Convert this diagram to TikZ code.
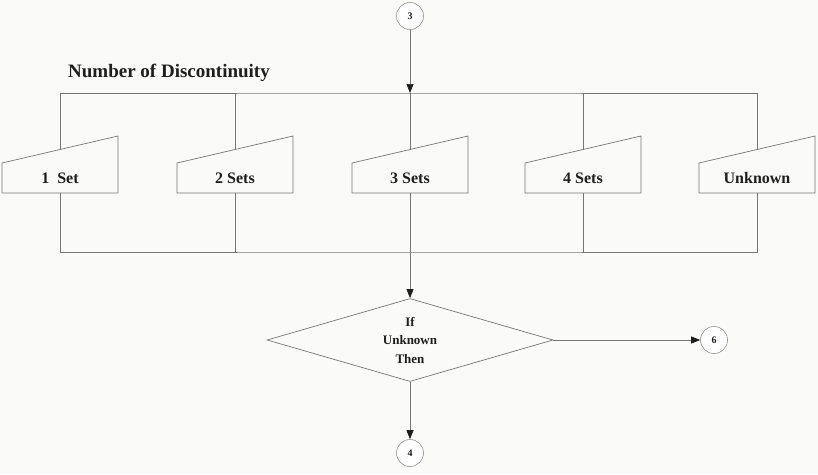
\documentclass[tikz,border=0pt]{standalone}
\usepackage{fontspec}
\setmainfont{Liberation Serif}
\usetikzlibrary{shapes.geometric,arrows.meta,calc}
\definecolor{paper}{HTML}{FAFAF9}
\definecolor{linegray}{HTML}{767676}
\definecolor{ink}{HTML}{1E1E1E}
\begin{document}
\begin{tikzpicture}[x=1pt,y=-1pt,
  wire/.style={draw=linegray, line width=0.7pt},
  flow/.style={wire, -{Triangle[length=9pt,width=7pt,color=ink]}},
  connector/.style={circle, draw=linegray!80, line width=0.6pt, fill=white,
    minimum size=27pt, inner sep=0pt, text=ink,
    font=\bfseries\fontsize{10}{11}\selectfont},
  boxtext/.style={text=ink, inner sep=1pt, font=\bfseries\fontsize{16}{18}\selectfont},
  heading/.style={text=ink, inner sep=0pt, font=\bfseries\fontsize{19}{22}\selectfont},
  decision/.style={diamond, wire, aspect=3.45, minimum width=286pt,
    minimum height=83pt, inner sep=0pt, align=center, text=ink,
    font=\bfseries\fontsize{13}{18.5}\selectfont}]
\useasboundingbox (0,0) rectangle (818,474);
\fill[paper] (0,0) rectangle (818,474);

% heading
\node[heading, anchor=base west] (title) at (68,77) {Number of Discontinuity};

% off-page connectors
\node[connector] (c3) at (410,16) {3};
\node[connector] (c6) at (714,340) {6};
\node[connector] (c4) at (410,453) {4};

% manual-input boxes, one per number of sets
\foreach \n/\cx/\t in {s1/60/{1\enspace Set}, s2/235/{2 Sets}, s3/410/{3 Sets},
                        s4/583/{4 Sets}, s5/757/{Unknown}} {
  \draw[wire] (\cx-58,193) -- (\cx+58,193) -- (\cx+58,136) -- (\cx-58,163) -- cycle;
  \node[boxtext] (\n) at (\cx,178) {\t};
  \coordinate (\n top) at (\cx,149.5);
  \coordinate (\n bot) at (\cx,193);
}

% decision
\node[decision] (dec) at (410,340) {If\\Unknown\\Then};

% distribution and collection bars
\coordinate (barTop) at (410,93);
\coordinate (barBot) at (410,252);
\draw[wire] (s1top) |- (barTop) -| (s5top);
\draw[wire] (s2top) -- (s2top |- barTop);
\draw[wire] (s4top) -- (s4top |- barTop);
\draw[wire] (s1bot) |- (barBot) -| (s5bot);
\draw[wire] (s2bot) -- (s2bot |- barBot);
\draw[wire] (s4bot) -- (s4bot |- barBot);

% main flow
\draw[flow] (c3) -- (barTop);
\draw[wire] (barTop) -- (s3top);
\draw[flow] (s3bot) -- (dec.north);
\draw[flow] (dec.east) -- (c6);
\draw[flow] (dec.south) -- (c4);
\end{tikzpicture}
\end{document}
